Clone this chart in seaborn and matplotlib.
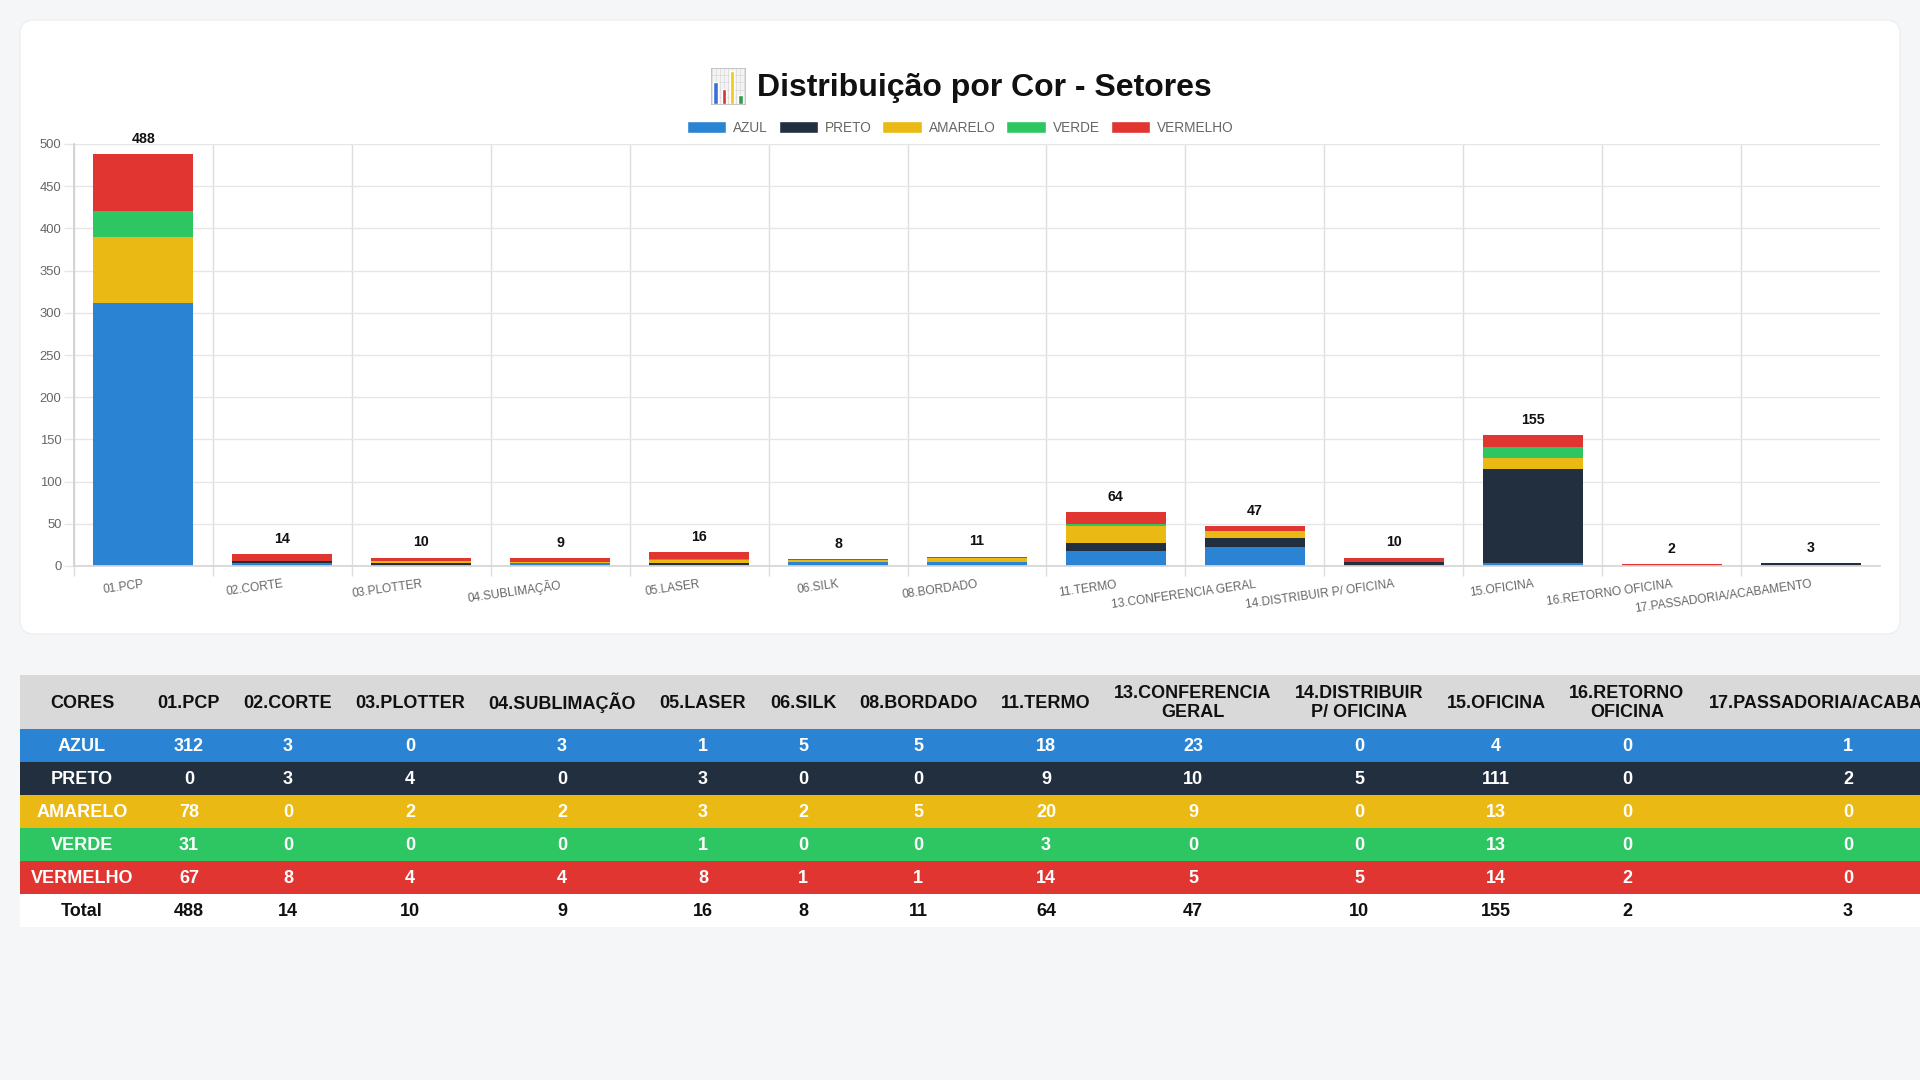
import matplotlib
matplotlib.use("Agg")
import matplotlib.pyplot as plt
from matplotlib.patches import FancyBboxPatch, Rectangle, Patch
import seaborn as sns
import numpy as np

# Dados por setor
setores = ["01.PCP", "02.CORTE", "03.PLOTTER", "04.SUBLIMAÇÃO", "05.LASER", "06.SILK",
           "08.BORDADO", "11.TERMO", "13.CONFERENCIA GERAL", "14.DISTRIBUIR P/ OFICINA",
           "15.OFICINA", "16.RETORNO OFICINA", "17.PASSADORIA/ACABAMENTO"]
cores = ["AZUL", "PRETO", "AMARELO", "VERDE", "VERMELHO"]
azul = [312, 3, 0, 3, 1, 5, 5, 18, 23, 0, 4, 0, 1]
preto = [0, 3, 4, 0, 3, 0, 0, 9, 10, 5, 111, 0, 2]
amarelo = [78, 0, 2, 2, 3, 2, 5, 20, 9, 0, 13, 0, 0]
verde = [31, 0, 0, 0, 1, 0, 0, 3, 0, 0, 13, 0, 0]
vermelho = [67, 8, 4, 4, 8, 1, 1, 14, 5, 5, 14, 2, 0]
header_labels = ["CORES", "01.PCP", "02.CORTE", "03.PLOTTER", "04.SUBLIMAÇÃO", "05.LASER",
                 "06.SILK", "08.BORDADO", "11.TERMO", "13.CONFERENCIA\nGERAL",
                 "14.DISTRIBUIR\nP/ OFICINA", "15.OFICINA", "16.RETORNO\nOFICINA",
                 "17.PASSADORIA/ACABAMENTO"]

palette = {"AZUL": "#2B84D3", "PRETO": "#222F3E", "AMARELO": "#EBB914",
           "VERDE": "#2EC662", "VERMELHO": "#E03530"}

series = [azul, preto, amarelo, verde, vermelho]
totais = np.sum(np.array(series), axis=0)

sns.set_theme(style="white")
plt.rcParams["font.family"] = ["Liberation Sans", "DejaVu Sans"]

W, H = 1920, 1080
fig = plt.figure(figsize=(19.2, 10.8), dpi=100, facecolor="#f5f6f8")

# fundo: cartao + tabela
bg = fig.add_axes([0, 0, 1, 1], zorder=0)
bg.set_xlim(0, W)
bg.set_ylim(H, 0)
bg.axis("off")
bg.add_patch(FancyBboxPatch((20, 20), 1880, 614, boxstyle="round,pad=0,rounding_size=14",
                            fc="white", ec="#eceef1", lw=1))

# grafico de barras empilhadas
ax = fig.add_axes([74 / W, 1 - 566 / H, (1880 - 74) / W, (566 - 144) / H], zorder=1)
bottom = np.zeros(len(setores))
for cor, vals in zip(cores, series):
    sns.barplot(x=setores, y=vals, color=palette[cor], saturation=1, width=0.72,
                bottom=bottom, errorbar=None, linewidth=0, ax=ax)
    bottom += np.array(vals)

for i, t in enumerate(totais):
    ax.annotate(str(t), (i, t), xytext=(0, 6), textcoords="offset points",
                ha="center", va="bottom", fontsize=10.2, fontweight="bold", color="#111111")

ax.set_ylim(0, 500)
ax.set_xlim(-0.5, len(setores) - 0.5)
ax.set_yticks(range(0, 501, 50))
ax.set_xticks(range(len(setores)))
ax.set_xticklabels(setores, rotation=8, ha="right", rotation_mode="anchor")
ax.set_xticks(np.arange(-0.5, len(setores) - 1, 1), minor=True)
ax.set_xlabel("")
ax.set_ylabel("")
ax.yaxis.grid(True, color="#e6e6e6", lw=1)
ax.xaxis.grid(True, which="minor", color="#dedede", lw=1)
ax.xaxis.grid(False, which="major")
ax.set_axisbelow(True)
ax.tick_params(axis="x", which="major", length=0, pad=9, labelsize=8.6, labelcolor="#666666")
ax.tick_params(axis="x", which="minor", length=7, width=1, color="#dedede", bottom=True)
ax.tick_params(axis="y", length=7, width=1, color="#e6e6e6", pad=2, labelsize=9.4,
               labelcolor="#666666", left=True)
for s in ["top", "right"]:
    ax.spines[s].set_visible(False)
ax.spines["left"].set_color("#d0d0d0")
ax.spines["bottom"].set_color("#d6d6d6")

# titulo com icone
fig.text(984 / W, 1 - 88 / H, "Distribuição por Cor - Setores", ha="center", va="center",
         fontsize=23, fontweight="bold", color="#111111")
icon = fig.add_axes([711 / W, 1 - 104 / H, 34 / W, 36 / H], zorder=2)
icon_heights = [0.62, 0.42, 0.92, 0.25]
icon_colors = ["#3b6fd8", "#d8322f", "#f5c518", "#2e9e4a"]
icon.bar(range(4), icon_heights, color=icon_colors, width=0.6)
icon.set_xlim(-0.6, 3.6)
icon.set_ylim(0, 1)
icon.set_facecolor("#f4f4f4")
icon.set_xticks(np.arange(-0.5, 4, 0.5))
icon.set_yticks(np.arange(0, 1, 0.2))
icon.grid(True, color="#d8d8d8", lw=0.5)
icon.set_axisbelow(True)
icon.tick_params(length=0, labelbottom=False, labelleft=False)
for s in icon.spines.values():
    s.set_color("#bbbbbb")
    s.set_linewidth(0.6)

# legenda
fig.legend(handles=[Patch(fc=palette[c], label=c) for c in cores], loc="center",
           bbox_to_anchor=(960 / W, 1 - 128 / H), ncol=5, frameon=False, fontsize=9.8,
           handlelength=2.9, handleheight=1.0, handletextpad=0.5, columnspacing=0.8,
           labelcolor="#666666")

# tabela
col_centers = [82, 189, 288, 410, 562, 703, 803, 918, 1046, 1193, 1359, 1496, 1627, 1848]
tab_top, head_h, row_h = 675, 54, 33
bg.add_patch(Rectangle((20, tab_top), W - 20, head_h, fc="#d9d9d9", lw=0))
for xc, lab in zip(col_centers, header_labels):
    bg.text(xc, tab_top + head_h / 2 + 1, lab, ha="center", va="center", fontsize=13,
            fontweight="bold", color="#111111", linespacing=1.2)

for r, (cor, vals) in enumerate(zip(cores, series)):
    y0 = tab_top + head_h + r * row_h
    bg.add_patch(Rectangle((20, y0), W - 20, row_h, fc=palette[cor], lw=0))
    cells = [cor] + [str(v) for v in vals]
    for xc, txt in zip(col_centers, cells):
        bg.text(xc, y0 + row_h / 2 + 1, txt, ha="center", va="center", fontsize=13,
                fontweight="bold", color="white")

y0 = tab_top + head_h + len(cores) * row_h
bg.add_patch(Rectangle((20, y0), W - 20, row_h, fc="white", lw=0))
for xc, txt in zip(col_centers, ["Total"] + [str(t) for t in totais]):
    bg.text(xc, y0 + row_h / 2 + 1, txt, ha="center", va="center", fontsize=13,
            fontweight="bold", color="#111111")

fig.savefig("out.png", dpi=100, facecolor=fig.get_facecolor())
